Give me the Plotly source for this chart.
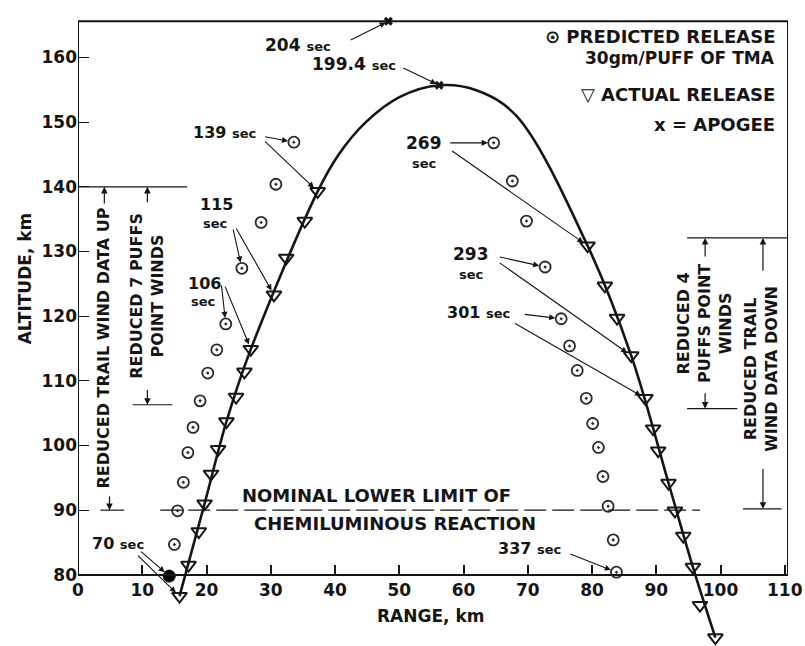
import plotly.graph_objects as go

# Release points: range (km) and altitude (km)
pred_up_range = [14.2, 15.0, 15.5, 16.4, 17.1, 17.9, 19.0, 20.2, 21.6, 23.0, 25.5, 28.5, 30.8, 33.6]
pred_up_alt = [79.8, 84.7, 89.9, 94.3, 98.9, 102.8, 106.9, 111.2, 114.8, 118.8, 127.4, 134.5, 140.4, 146.9]
pred_down_range = [64.7, 67.6, 69.8, 72.7, 75.2, 76.5, 77.7, 79.1, 80.1, 81.0, 81.7, 82.5, 83.3, 83.8]
pred_down_alt = [146.8, 140.9, 134.7, 127.6, 119.6, 115.4, 111.6, 107.3, 103.4, 99.7, 95.2, 90.6, 85.4, 80.4]

act_up_range = [15.8, 17.2, 18.8, 19.7, 20.7, 21.8, 23.1, 24.6, 25.9, 26.9, 30.5, 32.4, 35.3, 37.3]
act_up_alt = [76.7, 81.5, 86.7, 91.0, 95.6, 99.4, 103.7, 107.5, 111.4, 114.9, 123.3, 129.0, 134.7, 139.3]
act_down_range = [79.3, 82.0, 83.9, 86.1, 88.3, 89.5, 90.3, 91.9, 92.9, 94.2, 95.7, 96.8, 99.2]
act_down_alt = [130.9, 124.7, 119.7, 113.9, 107.3, 102.6, 99.2, 94.2, 89.9, 86.0, 81.2, 75.3, 70.3]

# Trajectory curve
traj_range = [15.8, 19.7, 23.1, 26.9, 37.3, 40.5, 44.8, 50.1, 56.2, 62.1, 68.2,
              79.3, 86.1, 91.9, 95.7, 99.2]
traj_alt = [76.7, 91.0, 103.7, 114.9, 139.3, 144.9, 150.0, 153.9, 155.7, 154.9, 151.0,
            130.9, 113.9, 94.2, 81.2, 70.3]

# Apogee: predicted (204 sec) and actual (199.4 sec)
apogee_range = [48.3, 56.2]
apogee_alt = [165.6, 155.7]

# Release times tagged on the chart: (seconds, index into the up/down lists)
up_times = [(70, 0), (106, 9), (115, 10), (139, 13)]
down_times = [(269, 0), (293, 3), (301, 4), (337, 13)]

x_ticks = list(range(0, 111, 10))
y_ticks = list(range(80, 161, 10))

nominal_limit = 90.0

X_MAX = 110.5
Y_MIN, Y_MAX = 69.3, 165.8
TOP = 165.6
INK = "#151515"
FONT = "DejaVu Sans"


def txt(x, y, text, size=16, angle=0, xanchor="center", yanchor="middle", xref="x"):
    return dict(x=x, y=y, xref=xref, yref="y", text=text, showarrow=False,
                textangle=angle, xanchor=xanchor, yanchor=yanchor,
                font=dict(family=FONT, size=size, color=INK, weight="bold"))


def arrow(x0, y0, x1, y1, standoff=4, width=1.1, head=2):
    return dict(x=x1, y=y1, ax=x0, ay=y0, xref="x", yref="y", axref="x", ayref="y",
                text="", showarrow=True, arrowhead=head, arrowsize=1.1,
                arrowwidth=width, arrowcolor=INK, standoff=standoff)


fig = go.Figure()

# actual trajectory
fig.add_trace(go.Scatter(x=traj_range, y=traj_alt, mode="lines",
                         line=dict(color=INK, width=2.6, shape="spline", smoothing=1.0),
                         hoverinfo="skip", showlegend=False))

# predicted releases (first puff at 70 sec drawn solid)
fig.add_trace(go.Scatter(x=pred_up_range[:1], y=pred_up_alt[:1], mode="markers",
                         marker=dict(symbol="circle", size=12, color="#000000",
                                     line=dict(width=1, color="#000000")),
                         cliponaxis=False, showlegend=False))
fig.add_trace(go.Scatter(x=pred_up_range[1:], y=pred_up_alt[1:], mode="markers",
                         marker=dict(symbol="circle-open-dot", size=11, color="#2a2a2a",
                                     line=dict(width=1.8)),
                         cliponaxis=False, showlegend=False))
fig.add_trace(go.Scatter(x=pred_down_range, y=pred_down_alt, mode="markers",
                         marker=dict(symbol="circle-open-dot", size=11, color="#2a2a2a",
                                     line=dict(width=1.8)),
                         cliponaxis=False, showlegend=False))

# actual releases
for xs, ys in ((act_up_range, act_up_alt), (act_down_range, act_down_alt)):
    fig.add_trace(go.Scatter(x=xs, y=ys, mode="markers",
                             marker=dict(symbol="triangle-down-open", size=13, color=INK,
                                         line=dict(width=2)),
                             cliponaxis=False, showlegend=False))

# apogees
fig.add_trace(go.Scatter(x=apogee_range, y=apogee_alt, mode="markers",
                         marker=dict(symbol="x", size=8, color=INK, line=dict(width=0)),
                         cliponaxis=False, showlegend=False))

pos80 = (80 - Y_MIN) / (Y_MAX - Y_MIN)


def hline(x0, x1, y, width=1.2, dash=None):
    ln = dict(color=INK, width=width)
    if dash:
        ln["dash"] = dash
    return dict(type="line", xref="x", yref="y", x0=x0, y0=y, x1=x1, y1=y, line=ln)


shapes = [
    # frame (left, top, right)
    dict(type="line", xref="x", yref="y", x0=0, y0=80, x1=0, y1=TOP, line=dict(color=INK, width=2)),
    dict(type="line", xref="x", yref="y", x0=0, y0=TOP, x1=X_MAX, y1=TOP, line=dict(color=INK, width=2)),
    dict(type="line", xref="x", yref="y", x0=X_MAX, y0=TOP, x1=X_MAX, y1=80, line=dict(color=INK, width=2)),
    # nominal lower limit of chemiluminous reaction
    hline(12.8, 96.8, nominal_limit, dash="22px,6px"),
    # brackets: reduced wind data intervals
    hline(0, 17.0, 140),
    hline(3.5, 7.2, 90),
    hline(8.5, 14.7, 106.3),
    hline(94.8, X_MAX, 132.1),
    hline(94.8, 102.6, 105.7),
    hline(103.5, 109.5, 90.2),
]

ann = []

# axis titles
ann.append(txt(-8.3 / X_MAX, 125.8, "ALTITUDE, km", size=17, angle=-90, xref="paper"))
ann.append(txt(54.9, 73.6, "RANGE, km", size=17))

# legend block
ann.append(txt(108.8, 163.3, "⊙ PREDICTED RELEASE", size=18, xanchor="right"))
ann.append(txt(108.8, 159.9, "30gm/PUFF OF TMA", size=17, xanchor="right"))
ann.append(txt(108.8, 154.3, "▽ ACTUAL RELEASE", size=18, xanchor="right"))
ann.append(txt(108.8, 149.7, "x = APOGEE", size=18, xanchor="right"))

# nominal limit text
ann.append(txt(46.4, 92.3, "NOMINAL LOWER LIMIT OF", size=18))
ann.append(txt(49.4, 88.0, "CHEMILUMINOUS REACTION", size=18))

small = "<span style='font-size:13px'>sec</span>"

# apogee labels
ann.append(txt(34.2, 161.9, "204 " + small, size=17))
ann.append(arrow(42.2, 162.6, apogee_range[0], apogee_alt[0], standoff=3))
ann.append(txt(43.0, 159.0, "199.4 " + small, size=17))
ann.append(arrow(50.4, 158.5, apogee_range[1], apogee_alt[1], standoff=3))

# up-leg release times
lbl_up = {
    139: dict(pos=(22.8, 148.4), tails=((28.9, 147.8), (28.9, 147.2)), one_line=True),
    115: dict(pos=(21.5, 137.2), tails=((24.1, 133.6), (24.5, 133.8)), one_line=False),
    106: dict(pos=(19.7, 125.1), tails=((22.3, 125.0), (22.8, 124.8)), one_line=False),
    70: dict(pos=(6.2, 84.9), tails=((9.6, 83.8), (9.1, 83.2)), one_line=True),
}
for sec, i in up_times:
    d = lbl_up[sec]
    x, y = d["pos"]
    if d["one_line"]:
        ann.append(txt(x, y, f"{sec} " + small, size=16))
    else:
        ann.append(txt(x, y, f"{sec}", size=16))
        ann.append(txt(x - 0.2, y - 2.9, small, size=13))
    (ax1, ay1), (ax2, ay2) = d["tails"]
    ann.append(arrow(ax1, ay1, pred_up_range[i], pred_up_alt[i], standoff=6))
    ann.append(arrow(ax2, ay2, act_up_range[i], act_up_alt[i], standoff=5))

# down-leg release times
lbl_down = {
    269: dict(pos=(53.8, 146.8), tails=((57.7, 146.8), (58.0, 145.7)), one_line=False),
    293: dict(pos=(61.2, 129.6), tails=((65.4, 129.2), (65.4, 128.4)), one_line=False),
    301: dict(pos=(62.4, 120.6), tails=((69.3, 120.3), (67.8, 119.0)), one_line=True),
    337: dict(pos=(70.2, 84.0), tails=((76.4, 83.3), None), one_line=True),
}
for sec, i in down_times:
    d = lbl_down[sec]
    x, y = d["pos"]
    if d["one_line"]:
        ann.append(txt(x, y, f"{sec} " + small, size=16))
    else:
        ann.append(txt(x, y, f"{sec}", size=17))
        ann.append(txt(x, y - 3.2, small, size=13))
    t1, t2 = d["tails"]
    ann.append(arrow(t1[0], t1[1], pred_down_range[i], pred_down_alt[i], standoff=6))
    if t2 is not None:
        ann.append(arrow(t2[0], t2[1], act_down_range[i], act_down_alt[i], standoff=5))

# bracket labels
ann.append(txt(3.9, 115.0, "REDUCED TRAIL WIND DATA UP", size=16, angle=-90))
ann.append(arrow(4.1, 137.2, 4.1, 140, standoff=0, width=1.2))
ann.append(arrow(4.9, 92.4, 4.9, 90, standoff=0, width=1.2))
ann.append(txt(10.8, 123.2, "REDUCED 7 PUFFS<br>POINT WINDS", size=16, angle=-90))
ann.append(arrow(10.8, 137.4, 10.8, 140, standoff=0, width=1.2))
ann.append(arrow(10.8, 108.8, 10.8, 106.3, standoff=0, width=1.2))

ann.append(txt(97.6, 118.8, "REDUCED 4<br>PUFFS POINT<br>WINDS", size=16, angle=-90))
ann.append(arrow(97.6, 129.0, 97.6, 132.1, standoff=0, width=1.2))
ann.append(arrow(97.6, 108.3, 97.6, 105.7, standoff=0, width=1.2))
ann.append(txt(106.4, 111.8, "REDUCED TRAIL<br>WIND DATA DOWN", size=16, angle=-90))
ann.append(arrow(106.6, 126.8, 106.6, 132.1, standoff=0, width=1.2))
ann.append(arrow(106.6, 96.6, 106.6, 90.2, standoff=0, width=1.2))

tickfont = dict(family=FONT, size=17, color=INK, weight="bold")

fig.update_layout(
    width=805, height=646,
    margin=dict(l=78, r=15, t=20, b=2),
    paper_bgcolor="white", plot_bgcolor="white",
    font=dict(family=FONT, color=INK),
    showlegend=False,
    xaxis=dict(range=[0, X_MAX], anchor="free", position=pos80,
               tickmode="array", tickvals=x_ticks, ticks="inside", ticklen=9,
               tickwidth=1.5, tickcolor=INK, showline=True, linewidth=2, linecolor=INK,
               showgrid=False, zeroline=False, tickfont=tickfont),
    yaxis=dict(range=[Y_MIN, Y_MAX], tickmode="array", tickvals=y_ticks,
               ticks="inside", ticklen=11, tickwidth=1.3, tickcolor=INK,
               showline=False, showgrid=False, zeroline=False, tickfont=tickfont),
    shapes=shapes,
    annotations=ann,
)

fig.write_html("out.html")
